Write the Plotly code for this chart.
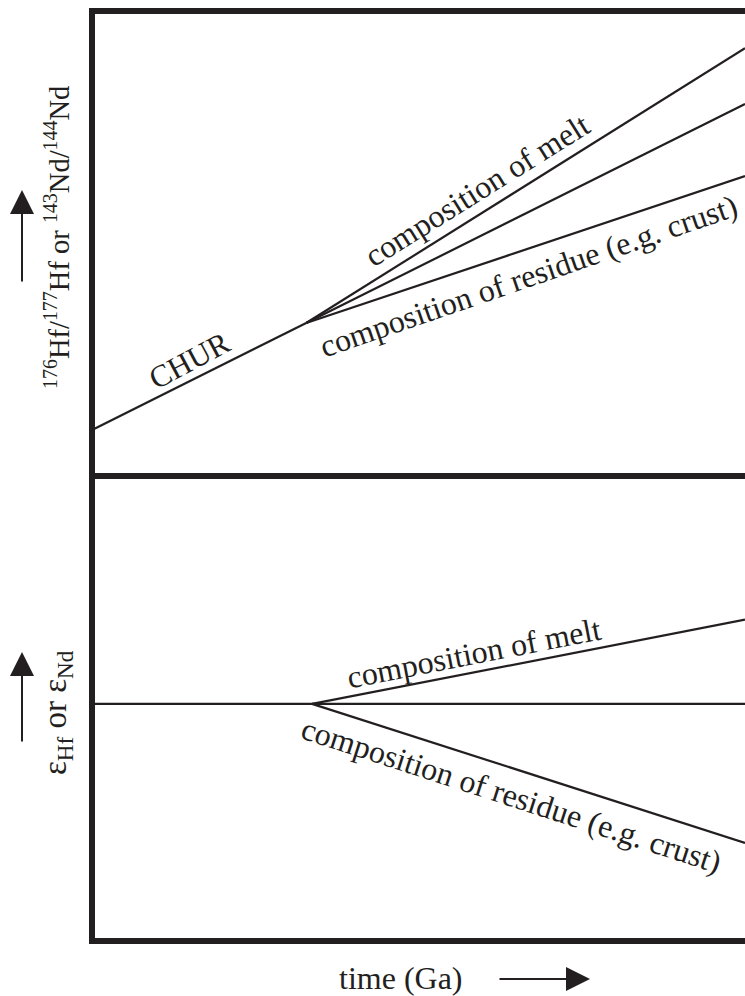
import plotly.graph_objects as go

# ---- data (arbitrary, normalised units) ----
time_chur = [0.0, 0.328]
ratio_chur = [0.099, 0.329]
time_split = [0.328, 1.0]
ratio_melt = [0.329, 0.920]
ratio_mid = [0.329, 0.800]
ratio_residue = [0.329, 0.645]

time_eps = [0.0, 1.0]
eps_chur = [0.0, 0.0]
time_eps_split = [0.337, 1.0]
eps_melt = [0.0, 0.181]
eps_residue = [0.0, -0.299]

INK = "#231f20"
FONT = "Liberation Serif, Times New Roman, serif"
W, H = 745, 996
L, R, T, B = 92, 0, 11, 55
PW, PH = W - L - R, H - T - B


def xp(px):
    return (px - L) / PW


def yp(py):
    return (H - B - py) / PH


fig = go.Figure()
line = dict(color=INK, width=2.2)
for xs, ys in [(time_chur, ratio_chur), (time_split, ratio_melt),
               (time_split, ratio_mid), (time_split, ratio_residue)]:
    fig.add_trace(go.Scatter(x=xs, y=ys, mode="lines", line=line,
                             xaxis="x", yaxis="y", showlegend=False, hoverinfo="skip"))
for xs, ys in [(time_eps, eps_chur), (time_eps_split, eps_melt),
               (time_eps_split, eps_residue)]:
    fig.add_trace(go.Scatter(x=xs, y=ys, mode="lines", line=line,
                             xaxis="x2", yaxis="y2", showlegend=False, hoverinfo="skip"))

hidden = dict(showgrid=False, zeroline=False, showticklabels=False, ticks="",
              showline=False, fixedrange=True)
fig.update_layout(
    width=W, height=H,
    margin=dict(l=L, r=R, t=T, b=B, pad=0),
    paper_bgcolor="white", plot_bgcolor="white",
    xaxis=dict(domain=[0, 1], range=[0, 1], anchor="y", **hidden),
    yaxis=dict(domain=[0.5, 1], range=[0, 1], anchor="x", **hidden),
    xaxis2=dict(domain=[0, 1], range=[0, 1], anchor="y2", **hidden),
    yaxis2=dict(domain=[0, 0.5], range=[-0.51, 0.49], anchor="x2", **hidden),
    font=dict(family=FONT, color=INK),
)

# frame (no right edge visible)
frame = dict(color=INK, width=6)
shapes = [
    dict(type="line", xref="paper", yref="paper", x0=xp(92), x1=xp(92), y0=yp(8), y1=yp(944), line=frame),
    dict(type="line", xref="paper", yref="paper", x0=xp(89), x1=xp(760), y0=yp(11), y1=yp(11), line=frame),
    dict(type="line", xref="paper", yref="paper", x0=xp(89), x1=xp(760), y0=yp(476), y1=yp(476), line=frame),
    dict(type="line", xref="paper", yref="paper", x0=xp(89), x1=xp(760), y0=yp(941), y1=yp(941), line=frame),
]
fig.update_layout(shapes=shapes)

ann = []


def label(text, px, py, angle, size=32):
    ann.append(dict(text=text, xref="paper", yref="paper", x=xp(px), y=yp(py),
                    xanchor="center", yanchor="middle", showarrow=False,
                    textangle=angle, font=dict(family=FONT, size=size, color=INK)))


label("composition of melt", 477, 190, -32, 32)
label("CHUR", 189, 360, -28, 31)
label("composition of residue (e.g. crust)", 528, 276, -19, 32)
label("composition of melt", 474, 653, -11, 32)
label("composition of residue (e.g. crust)", 511, 795, 18, 32)

label("<sup>176</sup>Hf/<sup>177</sup>Hf or <sup>143</sup>Nd/<sup>144</sup>Nd", 57, 238, -90, 28.5)
label("ε<sub>Hf</sub> or ε<sub>Nd</sub>", 57, 713, -90, 33)
label("time (Ga)", 401, 978, 0, 32)


def arrow(x_tip, y_tip, x_tail, y_tail):
    ann.append(dict(text="", xref="paper", yref="paper", x=xp(x_tip), y=yp(y_tip),
                    ax=x_tail - x_tip, ay=y_tail - y_tip, axref="pixel", ayref="pixel",
                    showarrow=True, arrowhead=2, arrowsize=2.4, arrowwidth=2,
                    arrowcolor=INK, standoff=0, startstandoff=0))


arrow(22, 190, 22, 283)
arrow(22, 652, 22, 743)
arrow(590, 979, 498, 979)

fig.update_layout(annotations=ann)
fig.write_html("out.html")
